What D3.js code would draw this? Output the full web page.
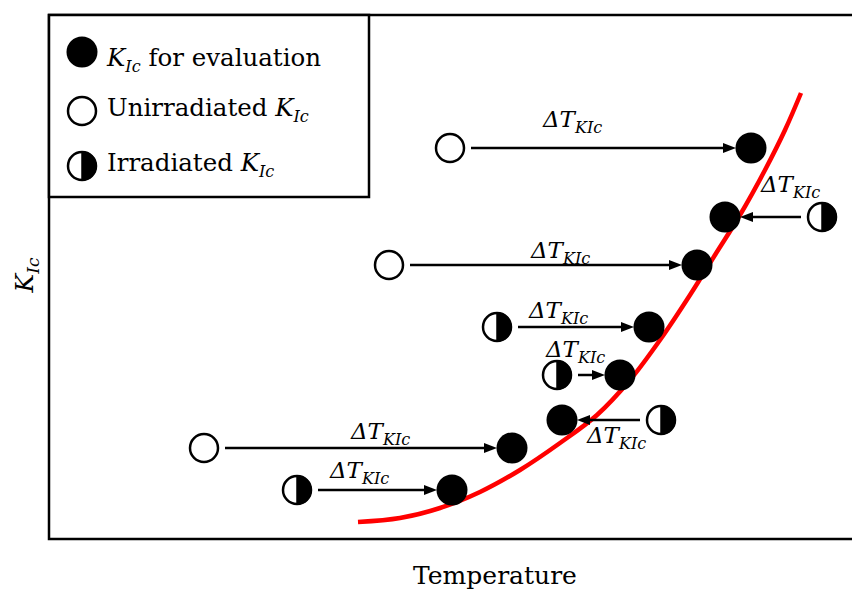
<!DOCTYPE html>
<html>
<head>
<meta charset="utf-8">
<script src="https://cdn.jsdelivr.net/npm/d3@7"></script>
<style>
  body { margin: 0; background: #fff; }
  svg { display: block; }
  text { font-family: "DejaVu Serif", serif; fill: #000; }
</style>
</head>
<body>
<svg id="chart" width="852" height="589"></svg>
<script>
// temperature (x) and K_Ic (y), arbitrary units
const evalT = [70.2, 67.6, 64.8, 60.0, 57.1, 51.3, 46.3, 40.3];
const evalK = [39.1, 32.2, 27.4, 21.2, 16.4, 11.9, 9.1, 4.9];

// where each shift starts: unirradiated (open) or irradiated (half) K_Ic
const srcType = ["open", "half", "open", "half", "half", "half", "open", "half"];
const srcT = [40.1, 77.3, 34.0, 44.8, 50.8, 61.2, 15.5, 24.8];

// anchor of each ΔT_KIc label
const labelT = [49.4, 71.2, 48.2, 48.0, 49.7, 53.8, 30.2, 28.1];
const labelK = [41.2, 34.7, 28.1, 22.1, 18.2, 9.6, 10.0, 6.1];

// master curve
const curveT = [30.9, 35.1, 39.1, 43.1, 47.1, 51.1, 54.8, 58.1, 61.1, 64.1, 66.6, 69.1, 71.6, 73.6, 75.2];
const curveK = [1.7, 2.1, 3.1, 4.7, 6.9, 9.6, 12.4, 15.9, 19.9, 24.4, 28.4, 32.4, 36.9, 40.9, 44.6];

const legendLabels = [
  { type: "eval", pre: "", sub: "Ic", post: " for evaluation", italicFirst: "K" },
  { type: "open", pre: "Unirradiated ", sub: "Ic", post: "", italicFirst: "K" },
  { type: "half", pre: "Irradiated ", sub: "Ic", post: "", italicFirst: "K" }
];

const svg = d3.select("#chart");
const mLeft = 49, mTop = 15, mBottom = 539, mRight = 859;

const x = d3.scaleLinear().domain([0, 81]).range([mLeft, mRight]);
const y = d3.scaleLinear().domain([0, 52.4]).range([mBottom, mTop]);

const R = 14.5;

function drawMarker(g, type, cx, cy) {
  if (type === "eval") {
    g.append("circle").attr("cx", cx).attr("cy", cy).attr("r", R + 1).attr("fill", "#000");
  } else if (type === "open") {
    g.append("circle").attr("cx", cx).attr("cy", cy).attr("r", R - 0.5)
      .attr("fill", "#fff").attr("stroke", "#000").attr("stroke-width", 2.5);
  } else {
    g.append("circle").attr("cx", cx).attr("cy", cy).attr("r", R - 0.5)
      .attr("fill", "#fff").attr("stroke", "#000").attr("stroke-width", 2.5);
    const rr = R - 0.5;
    g.append("path")
      .attr("d", `M${cx},${cy - rr} A${rr},${rr} 0 0 1 ${cx},${cy + rr} Z`)
      .attr("fill", "#000").attr("stroke", "#000").attr("stroke-width", 1.5);
  }
}

// frame
svg.append("rect")
  .attr("x", x(0)).attr("y", y(52.4))
  .attr("width", x(81) - x(0)).attr("height", y(0) - y(52.4))
  .attr("fill", "none").attr("stroke", "#000").attr("stroke-width", 2.5);

// red curve
const line = d3.line()
  .x((d) => x(d[0]))
  .y((d) => y(d[1]))
  .curve(d3.curveCatmullRom);

// arrows
const arrows = svg.append("g");
evalT.forEach((t, i) => {
  const y0 = y(evalK[i]);
  const dir = Math.sign(t - srcT[i]);
  const x0 = x(srcT[i]) + dir * 21;
  const tip = x(t) - dir * 15;
  const head = 13;
  arrows.append("line")
    .attr("x1", x0).attr("y1", y0)
    .attr("x2", tip - dir * head + dir * 1).attr("y2", y0)
    .attr("stroke", "#000").attr("stroke-width", 2.5);
  arrows.append("path")
    .attr("d", `M${tip},${y0} L${tip - dir * head},${y0 - 5} L${tip - dir * head},${y0 + 5} Z`)
    .attr("fill", "#000");
});

// labels
const labels = svg.append("g");
labelT.forEach((t, i) => {
  const txt = labels.append("text")
    .attr("x", x(t)).attr("y", y(labelK[i]))
    .attr("font-style", "italic");
  txt.append("tspan").attr("font-size", 23).text("\u0394T");
  txt.append("tspan").attr("font-size", 16).attr("dy", 6).text("KIc");
});

// markers
const marks = svg.append("g");
srcT.forEach((t, i) => drawMarker(marks, srcType[i], x(t), y(evalK[i])));
evalT.forEach((t, i) => drawMarker(marks, "eval", x(t), y(evalK[i])));

svg.insert("path", "g")
  .datum(curveT.map((t, i) => [t, curveK[i]]))
  .attr("d", line)
  .attr("fill", "none")
  .attr("stroke", "#ff0000")
  .attr("stroke-width", 4.5);

// legend
const lg = svg.append("g");
lg.append("rect")
  .attr("x", 49).attr("y", 15).attr("width", 320).attr("height", 182)
  .attr("fill", "#fff").attr("stroke", "#000").attr("stroke-width", 2.5);
const rowSym = [52, 111, 166];
const rowText = [66, 116, 171];
legendLabels.forEach((d, i) => {
  drawMarker(lg, d.type, 82, rowSym[i]);
  const txt = lg.append("text").attr("x", 107).attr("y", rowText[i]).attr("font-size", 24.5);
  if (d.pre) txt.append("tspan").text(d.pre);
  txt.append("tspan").attr("font-style", "italic").text(d.italicFirst);
  txt.append("tspan").attr("font-style", "italic").attr("font-size", 16).attr("dy", 6).text(d.sub);
  if (d.post) txt.append("tspan").attr("dy", -6).text(d.post);
});

// axis titles
svg.append("text")
  .attr("x", 495).attr("y", 584)
  .attr("text-anchor", "middle").attr("font-size", 25)
  .text("Temperature");

const yt = svg.append("text")
  .attr("transform", "translate(33,275) rotate(-90)")
  .attr("text-anchor", "middle").attr("font-style", "italic").attr("font-size", 25);
yt.append("tspan").text("K");
yt.append("tspan").attr("font-size", 17).attr("dy", 6).text("Ic");
</script>
</body>
</html>
